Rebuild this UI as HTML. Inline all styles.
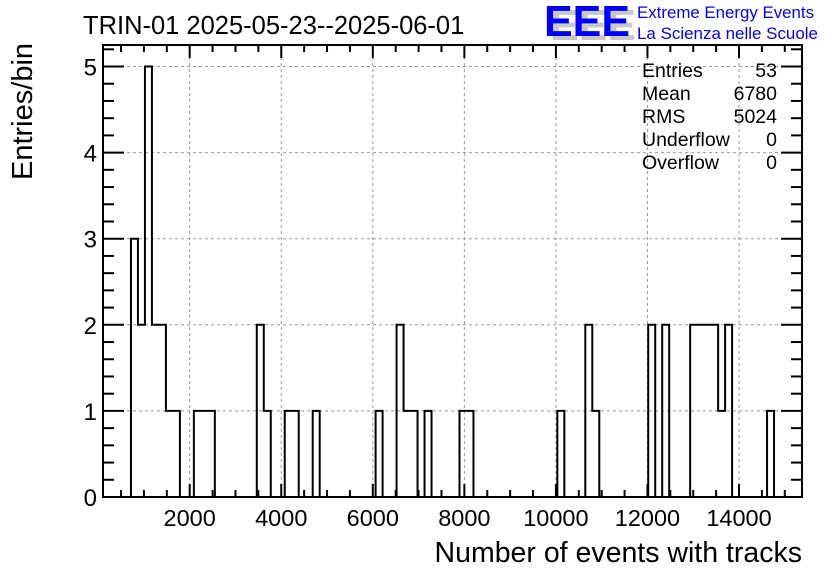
<!DOCTYPE html>
<html><head><meta charset="utf-8"><style>
body{margin:0;background:#fff;}
svg text{font-family:"Liberation Sans",sans-serif;}
</style></head><body>
<svg id="c" width="836" height="572" xmlns="http://www.w3.org/2000/svg">
<rect width="836" height="572" fill="#fff"/>
<g id="grid"></g>
<path id="hist" fill="none" stroke="#000" stroke-width="2"/>
<g id="axes"></g>
<text x="83" y="34" font-size="25.5">TRIN-01 2025-05-23--2025-06-01</text>
<text transform="translate(32,180) rotate(-90)" font-size="29">Entries/bin</text>
<text x="802" y="562" font-size="28.5" text-anchor="end">Number of events with tracks</text>
<g>
<text x="550" y="40" font-size="44" font-weight="bold" fill="#c8c8c8" textLength="86" lengthAdjust="spacingAndGlyphs">EEE</text>
<text x="544" y="36" font-size="44" font-weight="bold" fill="#0000ff" textLength="86" lengthAdjust="spacingAndGlyphs">EEE</text>
<text x="637" y="18" font-size="16.5" fill="#0000ff" textLength="177" lengthAdjust="spacingAndGlyphs">Extreme Energy Events</text>
<text x="637" y="39" font-size="16.5" fill="#0000ff" textLength="181" lengthAdjust="spacingAndGlyphs">La Scienza nelle Scuole</text>
</g>
<g id="stats" font-size="19.5"></g>
</svg>
<script>
const xMin = 106, xMax = 15376;
const yMax = 5.25;
const counts = [0,0,0,0,3,2,5,2,2,1,1,0,0,1,1,1,0,0,0,0,0,0,2,1,0,0,1,1,0,0,1,0,0,0,0,0,0,0,0,1,0,0,2,1,1,0,1,0,0,0,0,1,1,0,0,0,0,0,0,0,0,0,0,0,0,1,0,0,0,2,1,0,0,0,0,0,0,0,2,0,2,0,0,0,2,2,2,2,1,2,0,0,0,0,0,1,0,0,0,0];
const xTicks = [2000,4000,6000,8000,10000,12000,14000];
const yTicks = [0,1,2,3,4,5];
const statNames = ["Entries","Mean","RMS","Underflow","Overflow"];
const statValues = ["53","6780","5024","0","0"];

const L=103, R=802, T=45, B=497;
const sx = v => L + (v - xMin) / (xMax - xMin) * (R - L);
const sy = v => B - v / yMax * (B - T);
const NS = "http://www.w3.org/2000/svg";
function mk(tag, attrs, parent){const e=document.createElementNS(NS,tag);for(const k in attrs)e.setAttribute(k,attrs[k]);parent.appendChild(e);return e;}
const grid=document.getElementById('grid'), axes=document.getElementById('axes');
xTicks.forEach(t=>{const l=mk('line',{x1:sx(t),x2:sx(t),y1:T,y2:B,stroke:'#999','stroke-dasharray':'3,3'},grid);

});
yTicks.forEach(t=>{const l=mk('line',{x1:L,x2:R,y1:sy(t),y2:sy(t),stroke:'#999','stroke-dasharray':'3,3'},grid);

});
const n=counts.length, bw=(xMax-xMin)/n;
let d='M'+sx(xMin)+','+sy(0);
counts.forEach((c,i)=>{d+=' L'+sx(xMin+i*bw)+','+sy(c)+' L'+sx(xMin+(i+1)*bw)+','+sy(c);});
d+=' L'+sx(xMax)+','+sy(0);
document.getElementById('hist').setAttribute('d',d);
const fr=mk('rect',{x:L,y:T,width:R-L,height:B-T,fill:'none',stroke:'#000','stroke-width':2},axes);


for(let v=500; v<xMax; v+=500){ if(v<xMin) continue;
 const maj=v%2000===0, len=maj?13:7;
 mk('line',{x1:sx(v),x2:sx(v),y1:B,y2:B-len,stroke:'#000','stroke-width':2},axes);
 mk('line',{x1:sx(v),x2:sx(v),y1:T,y2:T+len,stroke:'#000','stroke-width':2},axes);}
xTicks.forEach(t=>{const e=mk('text',{x:sx(t),y:526,'font-size':23.5,'text-anchor':'middle'},axes);e.textContent=t;

});
for(let k=0;k<=26;k++){const v=k*0.2; if(v>yMax) break; const maj=k%5===0, len=maj?21:11;
 mk('line',{x1:L,x2:L+len,y1:sy(v),y2:sy(v),stroke:'#000','stroke-width':2},axes);
 mk('line',{x1:R,x2:R-len,y1:sy(v),y2:sy(v),stroke:'#000','stroke-width':2},axes);}
yTicks.forEach(t=>{const e=mk('text',{x:97,y:sy(t)+9,'font-size':24,'text-anchor':'end'},axes);e.textContent=t;

});
const st=document.getElementById('stats');
statNames.forEach((s,i)=>{const y=77+i*23;
 const a=mk('text',{x:642,y:y},st);a.textContent=s;
 
 
 const b=mk('text',{x:777,y:y,'text-anchor':'end'},st);b.textContent=statValues[i];
 
 });
</script>
</body></html>
